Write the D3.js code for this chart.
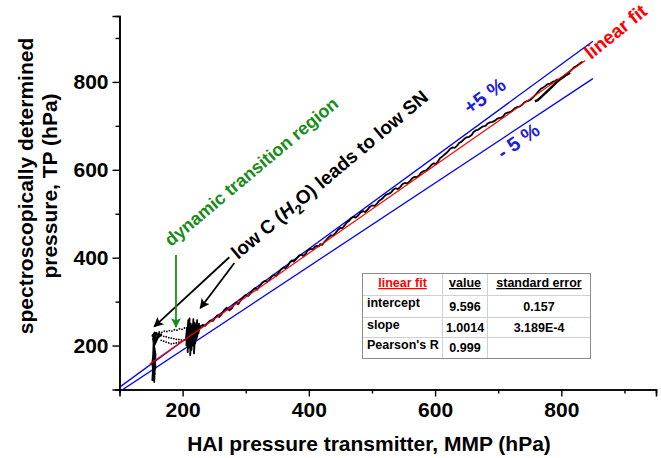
<!DOCTYPE html>
<html>
<head>
<meta charset="utf-8">
<script src="https://cdn.jsdelivr.net/npm/d3@7"></script>
<style>
body { margin: 0; background: #fff; }
text { font-family: "Liberation Sans", Arial, sans-serif; font-weight: bold; }
</style>
</head>
<body>
<script>
// values (hPa)
var clusterLowMMP = [160, 156, 152, 158, 163, 154, 153, 156, 152, 155, 157, 153, 154, 158, 166, 161, 155, 152, 155, 157, 153, 156, 162, 167];
var clusterLowTP  = [226, 230, 222, 215, 228, 205, 170, 135, 121, 190, 150, 128, 210, 226, 224, 218, 200, 160, 117, 180, 215, 229, 222, 226];

var transUpperMMP = [159, 163, 167, 171, 175, 179, 183, 187, 191, 195, 199, 203, 207];
var transUpperTP  = [229, 231, 230, 233, 232, 234, 233, 236, 235, 238, 237, 240, 241];
var transMidMMP   = [162, 166, 170, 174, 178, 182, 186, 190, 194, 198, 202, 206];
var transMidTP    = [224, 223, 221, 220, 218, 217, 216, 214, 214, 213, 212, 212];
var transLowMMP   = [166, 170, 174, 178, 182, 186, 190, 194, 198];
var transLowTP    = [212, 210, 208, 206, 204, 205, 206, 208, 209];

var clusterHighMMP = [205, 207, 206, 209, 208, 211, 210, 213, 212, 215, 214, 217, 216, 219, 218, 221, 220, 223, 222, 224, 223, 226, 225, 227, 226];
var clusterHighTP  = [212, 240, 200, 258, 185, 262, 195, 250, 178, 245, 190, 260, 200, 252, 182, 248, 205, 258, 215, 242, 220, 250, 228, 244, 236];

var mainMMP = [228, 232, 236, 240, 244, 248, 251, 255, 258, 262, 266, 270, 274, 278, 281, 285, 288, 292, 296, 300,
  304, 308, 311, 315, 318, 322, 326, 330, 334, 338, 341, 345, 348, 352, 356, 360, 363, 367, 370, 373,
  376, 380, 384, 388, 391, 395, 398, 402, 406, 410, 413, 416, 418, 421, 424, 428, 431, 435, 438, 442,
  446, 450, 453, 457, 460, 464, 467, 471, 474, 478, 482, 486, 489, 493, 496, 500, 504, 508, 511, 515,
  518, 522, 526, 530, 534, 538, 541, 545, 548, 552, 556, 560, 564, 568, 571, 575, 578, 582, 586, 590,
  594, 598, 601, 605, 608, 612, 616, 620, 624, 628, 631, 635, 638, 642, 646, 650, 654, 658, 661, 665,
  668, 672, 676, 680, 683, 687, 691, 695, 698, 702, 705, 708, 711, 715, 718, 722, 726, 730, 734, 738,
  741, 745, 748, 752, 756, 760, 764, 768, 771, 775, 778, 782, 786, 790, 793, 797, 800, 804, 808, 812,
  816, 820, 824, 828, 831, 834];
var mainTP = [244, 247, 245, 252, 257, 256, 262, 269, 265, 272, 281, 286, 280, 285, 293, 298, 294, 303, 310, 315,
  313, 320, 326, 331, 327, 335, 343, 347, 345, 350, 357, 361, 358, 366, 373, 378, 376, 382, 390, 394,
  391, 397, 404, 407, 404, 409, 416, 420, 419, 425, 427, 426, 431, 429, 435, 441, 446, 451, 450, 456,
  463, 468, 467, 474, 480, 484, 490, 493, 491, 496, 503, 506, 504, 509, 515, 519, 518, 523, 529, 533,
  537, 543, 545, 548, 555, 558, 556, 561, 567, 570, 569, 574, 581, 584, 583, 588, 594, 597, 599, 604,
  611, 615, 613, 620, 627, 631, 636, 641, 648, 651, 650, 655, 661, 664, 670, 674, 675, 679, 686, 690,
  691, 695, 699, 700, 705, 708, 709, 712, 716, 718, 719, 722, 728, 730, 731, 734, 740, 743, 744, 748,
  753, 756, 757, 760, 766, 772, 779, 785, 787, 791, 795, 796, 800, 802, 805, 806, 809, 812, 818, 822,
  827, 833, 836, 840, 844, 846];

var branchMMP = [758, 762, 770, 778, 786, 793, 800, 808, 814];
var branchTP  = [756, 758, 768, 779, 790, 800, 808, 816, 821];

// linear fit and +-5 % band
var fitIntercept = 9.596, fitSlope = 1.0014;
var fitRange = [148, 838];
var bandRange = [95, 850];
var bandPct = [5, -5];

var majorTicks = [200, 400, 600, 800];
var minorTicks = [100, 300, 500, 700, 900];

var tableHeader = ["linear fit", "value", "standard error"];
var tableRows = [
  ["intercept", "9.596", "0.157"],
  ["slope", "1.0014", "3.189E-4"],
  ["Pearson's R", "0.999", ""]
];

var width = 661, height = 458;

var svg = d3.select("body").append("svg")
    .attr("width", width)
    .attr("height", height);

var x = d3.scaleLinear().domain([100, 950]).range([119.5, 656]);
var y = d3.scaleLinear().domain([100, 950]).range([389.5, 16]);

var defs = svg.append("defs");
defs.append("clipPath").attr("id", "plot")
  .append("rect")
    .attr("x", x(100)).attr("y", y(950))
    .attr("width", x(950) - x(100)).attr("height", y(100) - y(950));

function pairs(xs, ys) { return xs.map(function(d, i) { return [d, ys[i]]; }); }

var line = d3.line()
    .x(function(d) { return x(d[0]); })
    .y(function(d) { return y(d[1]); });

var plot = svg.append("g").attr("clip-path", "url(#plot)");

// +-5 % lines
bandPct.forEach(function(p) {
  plot.append("path")
      .datum(bandRange.map(function(v) { return [v, v * (1 + p / 100)]; }))
      .attr("d", line)
      .attr("fill", "none")
      .attr("stroke", "#0000ff")
      .attr("stroke-width", 1.3);
});

// measured traces
var traces = [
  pairs(clusterLowMMP, clusterLowTP),
  pairs(clusterHighMMP, clusterHighTP).concat(pairs(mainMMP, mainTP))
];
traces.forEach(function(t) {
  plot.append("path")
      .datum(t)
      .attr("d", line)
      .attr("fill", "none")
      .attr("stroke", "#000")
      .attr("stroke-width", 1.8)
      .attr("stroke-linejoin", "round");
});

plot.append("path")
    .datum(pairs(branchMMP, branchTP))
    .attr("d", line)
    .attr("fill", "none")
    .attr("stroke", "#000")
    .attr("stroke-width", 2.4);

[[transUpperMMP, transUpperTP], [transMidMMP, transMidTP], [transLowMMP, transLowTP]].forEach(function(s) {
  plot.selectAll(null)
      .data(pairs(s[0], s[1]))
    .enter().append("circle")
      .attr("cx", function(d) { return x(d[0]); })
      .attr("cy", function(d) { return y(d[1]); })
      .attr("r", 0.9)
      .attr("fill", "#000");
});

// fit
plot.append("path")
    .datum(fitRange.map(function(v) { return [v, fitIntercept + fitSlope * v]; }))
    .attr("d", line)
    .attr("fill", "none")
    .attr("stroke", "#ff0000")
    .attr("stroke-width", 1.2);

// axes
function styleAxis(g) {
  g.selectAll("path.domain").attr("stroke", "#000").attr("stroke-width", 1.6);
  g.selectAll(".tick line").attr("stroke", "#000").attr("stroke-width", 1.4);
  g.selectAll("text").attr("font-size", 21).attr("fill", "#000")
    .style("font-family", '"Liberation Sans", Arial, sans-serif').style("font-weight", "bold");
}

svg.append("g")
    .attr("transform", "translate(0," + y(100) + ")")
    .call(d3.axisBottom(x).tickValues(minorTicks).tickSize(4).tickFormat(""))
    .call(styleAxis);
svg.append("g")
    .attr("transform", "translate(0," + y(100) + ")")
    .call(d3.axisBottom(x).tickValues(majorTicks).tickSize(7).tickPadding(6).tickFormat(d3.format("d")))
    .call(styleAxis);
svg.append("g")
    .attr("transform", "translate(" + x(100) + ",0)")
    .call(d3.axisLeft(y).tickValues(minorTicks).tickSize(4).tickFormat(""))
    .call(styleAxis);
svg.append("g")
    .attr("transform", "translate(" + x(100) + ",0)")
    .call(d3.axisLeft(y).tickValues(majorTicks).tickSize(7).tickPadding(4).tickFormat(d3.format("d")))
    .call(styleAxis);

// axis titles
svg.append("text")
    .attr("x", 369).attr("y", 451)
    .attr("text-anchor", "middle")
    .attr("font-size", 21)
    .text("HAI pressure transmitter, MMP (hPa)");

var yTitle = svg.append("text")
    .attr("transform", "translate(33,186) rotate(-90)")
    .attr("text-anchor", "middle")
    .attr("font-size", 21);
yTitle.append("tspan").attr("x", 0).attr("y", 0).text("spectroscopically determined");
yTitle.append("tspan").attr("x", 0).attr("y", 24).text("pressure, TP (hPa)");

// annotations
svg.append("text")
    .attr("transform", "translate(591,60) rotate(-39)")
    .attr("font-size", 19).attr("fill", "#ff0000")
    .text("linear fit");
svg.append("text")
    .attr("transform", "translate(470,115) rotate(-36)")
    .attr("font-size", 20).attr("fill", "#2020dd")
    .text("+5 %");
svg.append("text")
    .attr("transform", "translate(503,160) rotate(-35)")
    .attr("font-size", 20).attr("fill", "#2020dd")
    .text("- 5 %");
svg.append("text")
    .attr("transform", "translate(171,247) rotate(-40)")
    .attr("font-size", 18).attr("fill", "#1a8c1a")
    .text("dynamic transition region");

var lowC = svg.append("text")
    .attr("transform", "translate(238,260) rotate(-40)")
    .attr("font-size", 19).attr("fill", "#000");
lowC.append("tspan").text("low C (");
lowC.append("tspan").style("font-style", "italic").text("H");
lowC.append("tspan").attr("dy", 5).attr("font-size", 13).text("2");
lowC.append("tspan").attr("dy", -5).text("O) leads to low SN");

[["head-black", "#000"], ["head-green", "#1a8c1a"]].forEach(function(m) {
  defs.append("marker")
      .attr("id", m[0])
      .attr("viewBox", "0 0 10 10")
      .attr("refX", 9).attr("refY", 5)
      .attr("markerWidth", 6.5).attr("markerHeight", 5.5)
      .attr("markerUnits", "strokeWidth")
      .attr("orient", "auto")
    .append("path")
      .attr("d", "M0,0L10,5L0,10L2,5z")
      .attr("fill", m[1]);
});

var arrows = [
  {from: [274, 401], to: [155, 243], color: "#000", head: "head-black"},
  {from: [282, 388], to: [228, 285], color: "#000", head: "head-black"},
  {from: [189.5, 406], to: [189.5, 242], color: "#1a8c1a", head: "head-green"}
];
arrows.forEach(function(a) {
  svg.append("line")
      .attr("x1", x(a.from[0])).attr("y1", y(a.from[1]))
      .attr("x2", x(a.to[0])).attr("y2", y(a.to[1]))
      .attr("stroke", a.color)
      .attr("stroke-width", 1.8)
      .attr("marker-end", "url(#" + a.head + ")");
});

// fit parameter table
var colX = [362.5, 442.5, 487.5, 590.5];
var rowY = [273.5, 295.5, 317.5, 337.5, 358.5];
var table = svg.append("g");

colX.slice(1, 3).forEach(function(cx) {
  table.append("line").attr("x1", cx).attr("x2", cx).attr("y1", rowY[0]).attr("y2", rowY[4])
      .attr("stroke", "#d0d0d0");
});
rowY.slice(1, 4).forEach(function(ry) {
  table.append("line").attr("x1", colX[0]).attr("x2", colX[3]).attr("y1", ry).attr("y2", ry)
      .attr("stroke", "#d0d0d0");
});
table.append("rect")
    .attr("x", colX[0]).attr("y", rowY[0])
    .attr("width", colX[3] - colX[0]).attr("height", rowY[4] - rowY[0])
    .attr("fill", "none").attr("stroke", "#8c8c8c");

tableHeader.forEach(function(h, i) {
  table.append("text")
      .attr("x", (colX[i] + colX[i + 1]) / 2).attr("y", 287)
      .attr("text-anchor", "middle")
      .attr("font-size", 12.5)
      .attr("text-decoration", "underline")
      .attr("fill", i === 0 ? "#ff0000" : "#000")
      .text(h);
});
var labelBase = [307, 329, 349], valueBase = [311, 332, 352];
tableRows.forEach(function(r, j) {
  table.append("text")
      .attr("x", colX[0] + 4.5).attr("y", labelBase[j])
      .attr("font-size", 12.5)
      .text(r[0]);
  [1, 2].forEach(function(i) {
    table.append("text")
        .attr("x", (colX[i] + colX[i + 1]) / 2).attr("y", valueBase[j])
        .attr("text-anchor", "middle")
        .attr("font-size", 12.5)
        .text(r[i]);
  });
});
</script>
</body>
</html>
